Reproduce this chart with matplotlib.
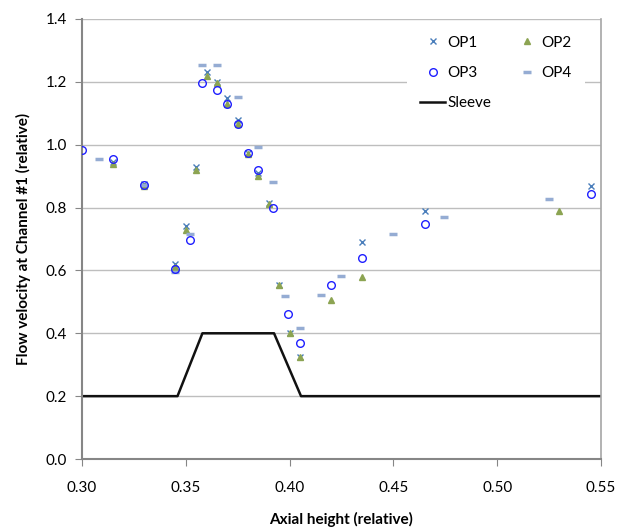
import numpy as np
import matplotlib.pyplot as plt

plt.rcParams['font.family'] = ['Lato', 'DejaVu Sans']

# OP1 (x markers)
op1_x = [0.315, 0.33, 0.345, 0.35, 0.355, 0.36, 0.365, 0.37, 0.375, 0.38,
         0.385, 0.39, 0.395, 0.40, 0.405, 0.435, 0.465, 0.545]
op1_y = [0.945, 0.875, 0.62, 0.74, 0.93, 1.23, 1.20, 1.15, 1.08, 0.975,
         0.91, 0.815, 0.555, 0.40, 0.325, 0.69, 0.79, 0.87]

# OP2 (triangles)
op2_x = [0.315, 0.33, 0.345, 0.35, 0.355, 0.36, 0.365, 0.37, 0.375, 0.38,
         0.385, 0.39, 0.395, 0.40, 0.405, 0.42, 0.435, 0.53]
op2_y = [0.94, 0.87, 0.61, 0.73, 0.92, 1.22, 1.195, 1.13, 1.065, 0.97,
         0.90, 0.81, 0.555, 0.40, 0.325, 0.505, 0.58, 0.79]

# OP3 (open circles)
op3_x = [0.30, 0.315, 0.33, 0.345, 0.352, 0.358, 0.365, 0.37, 0.375, 0.38,
         0.385, 0.392, 0.399, 0.405, 0.42, 0.435, 0.465, 0.545]
op3_y = [0.983, 0.955, 0.872, 0.605, 0.698, 1.197, 1.175, 1.128, 1.066, 0.975,
         0.92, 0.80, 0.46, 0.37, 0.553, 0.64, 0.748, 0.843]

# OP4 (dashes)
op4_x = [0.308, 0.33, 0.345, 0.352, 0.358, 0.365, 0.375, 0.385, 0.392, 0.398,
         0.405, 0.415, 0.425, 0.45, 0.4745, 0.525]
op4_y = [0.955, 0.872, 0.595, 0.715, 1.255, 1.255, 1.152, 0.992, 0.882, 0.52,
         0.417, 0.522, 0.583, 0.717, 0.77, 0.828]

# Sleeve outline
sleeve_x = [0.30, 0.346, 0.358, 0.3925, 0.4055, 0.55]
sleeve_y = [0.2, 0.2, 0.4, 0.4, 0.2, 0.2]

fig = plt.figure(figsize=(6.25, 5.27), dpi=100)
ax = fig.add_axes([0.1312, 0.129, 0.8304, 0.835])

ax.plot(sleeve_x, sleeve_y, color='#111111', lw=1.8, label='Sleeve', zorder=2)
ax.plot(op1_x, op1_y, ls='none', marker='x', ms=5, mew=1.0, color='#4A7EBB', label='OP1', zorder=3)
ax.plot(op2_x, op2_y, ls='none', marker='^', ms=5, color='#8CA452', label='OP2', zorder=3)
ax.plot(op3_x, op3_y, ls='none', marker='o', ms=5.5, mfc='none', mec='#1F1FFF', mew=1.0, label='OP3', zorder=4)
ax.plot(op4_x, op4_y, ls='none', marker='_', ms=6, mew=2.5, color='#95ACD3', label='OP4', zorder=3)

ax.set_xlim(0.30, 0.55)
ax.set_ylim(0.0, 1.4)
ax.set_xticks(np.arange(0.30, 0.551, 0.05))
ax.set_yticks(np.arange(0.0, 1.41, 0.2))
ax.xaxis.set_major_formatter(plt.FormatStrFormatter('%.2f'))
ax.yaxis.set_major_formatter(plt.FormatStrFormatter('%.1f'))
ax.tick_params(labelsize=11, color='#868686', length=5, direction='out', pad=6)
ax.tick_params(axis='x', pad=11)
ax.grid(axis='y', color='#BEBEBE', lw=1)
ax.set_axisbelow(True)

for s in ['left', 'bottom']:
    ax.spines[s].set_color('#868686')
    ax.spines[s].set_linewidth(1.5)
ax.spines['right'].set_color('#A6A6A6')
ax.spines['right'].set_linewidth(1.2)
ax.spines['top'].set_visible(False)

ax.set_xlabel('Axial height (relative)', fontsize=11, fontweight='bold', labelpad=12)
ax.set_ylabel('Flow velocity at Channel #1 (relative)', fontsize=11, fontweight='bold', labelpad=10)

handles, labels = ax.get_legend_handles_labels()
order = [1, 3, 0, 2, 4]
leg = ax.legend([handles[i] for i in order], [labels[i] for i in order], ncol=2,
                loc='upper right', bbox_to_anchor=(0.964, 0.986), frameon=True,
                fontsize=11, handlelength=1.6, columnspacing=1.55, borderaxespad=0.3,
                labelspacing=1.05, handletextpad=0.15)
leg.get_frame().set_edgecolor('none')
leg.get_frame().set_facecolor('white')
leg.get_frame().set_alpha(1)
leg.get_frame().set_boxstyle('square', pad=0.5)

fig.savefig('out.png', dpi=100)
